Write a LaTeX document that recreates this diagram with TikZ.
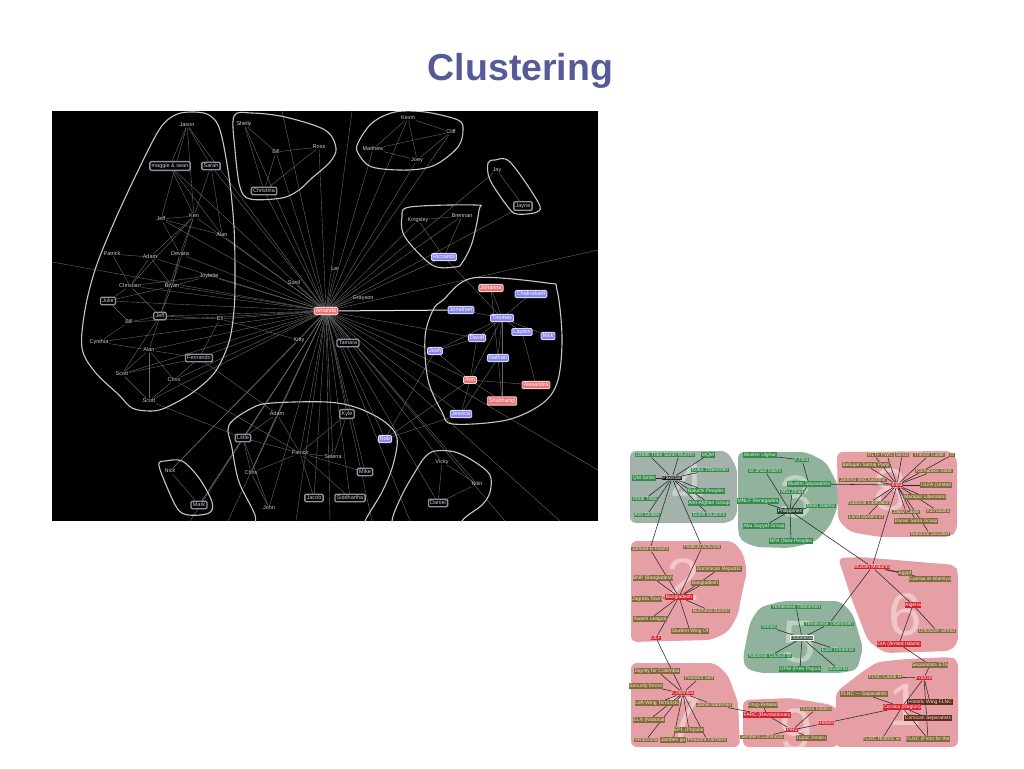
\documentclass[tikz,border=0pt]{standalone}
\usepackage{fontspec}
\setmainfont{Liberation Sans}
\definecolor{titlec}{RGB}{86,90,150}
\definecolor{ltxt}{RGB}{205,205,205}
\definecolor{gbord}{RGB}{140,146,160}
\definecolor{bfill}{RGB}{135,135,235}
\definecolor{bglow}{RGB}{215,215,255}
\definecolor{pfill}{RGB}{232,115,115}
\definecolor{pglow}{RGB}{255,205,205}
\definecolor{ledgec}{RGB}{105,105,105}
\definecolor{hullc}{RGB}{200,200,195}
\definecolor{cpink}{RGB}{230,160,165}
\definecolor{cgreen}{RGB}{145,178,156}
\definecolor{cgray}{RGB}{163,178,170}
\definecolor{glab}{RGB}{55,138,78}
\definecolor{gtxt}{RGB}{225,245,225}
\definecolor{blab}{RGB}{128,106,62}
\definecolor{btxt}{RGB}{245,235,205}
\definecolor{rlabc}{RGB}{212,35,45}
\definecolor{dbrown}{RGB}{95,42,32}
\definecolor{dgreen}{RGB}{38,72,46}
\pgfdeclarelayer{bg}
\pgfdeclarelayer{edges}
\pgfsetlayers{bg,edges,main}
\tikzset{
  lt/.style={text=ltxt, font=\fontsize{5.5}{5.5}\selectfont, inner sep=0.5pt},
  gbox/.style={lt, draw=gbord, line width=1.3pt, fill=black, rounded corners=1.3pt, inner sep=1.8pt},
  bbox/.style={lt, text=white, draw=bglow, line width=0.9pt, fill=bfill, rounded corners=1.2pt, inner sep=1.6pt},
  pbox/.style={lt, text=white, draw=pglow, line width=0.9pt, fill=pfill, rounded corners=1.2pt, inner sep=1.6pt},
  ledge/.style={draw=ledgec, line width=0.4pt},
  bright/.style={draw=white!85!gray, line width=1pt},
  hull/.style={draw=hullc, line width=1.1pt, smooth cycle, tension=0.55},
  rl/.style={font=\fontsize{5}{5}\selectfont, inner sep=0.6pt},
  grl/.style={rl, fill=glab, text=gtxt},
  brl/.style={rl, fill=blab, text=btxt},
  rrl/.style={rl, fill=rlabc, text=white},
  drl/.style={rl, fill=dbrown, text=btxt},
  redge/.style={draw=black!85, line width=0.55pt},
  numl/.style={font=\fontsize{60}{60}\selectfont, text=white, opacity=0.4, inner sep=0pt},
  cl/.style={rounded corners=6pt}
}
\begin{document}
\begin{tikzpicture}[x=1pt,y=-1pt]
\useasboundingbox (0,0) rectangle (1024,768);
\node[font=\fontsize{37.5}{40}\selectfont\bfseries, text=titlec, anchor=base, inner sep=0pt] (title) at (520.5,81) {Clustering};

% ================= LEFT IMAGE =================
\begin{pgfonlayer}{bg}
\fill[black] (52,111) rectangle (598,521);
\end{pgfonlayer}

% top-left cluster
\node[lt] (jason) at (187,125) {Jason};
\node[gbox] (maggie) at (170,166) {maggie \& sean};
\node[gbox] (sarah) at (211,166) {Sarah};
\node[lt] (jeffa) at (161,219) {Jeff};
\node[lt] (ken) at (194,216) {Ken};
\node[lt] (alana) at (222,235) {Alan};
\node[lt] (patricka) at (112,254) {Patrick};
\node[lt] (adama) at (150,257) {Adam};
\node[lt] (devara) at (180,254) {Devara};
\node[lt] (joylette) at (209,276) {Joylette};
\node[lt] (christian) at (130,286) {Christian};
\node[lt] (bryan) at (172,286) {Bryan};
\node[gbox] (julie) at (108,301) {Julie};
\node[gbox] (jeffb) at (160,316) {Jeff};
\node[lt] (billb) at (129,322) {Bill};
\node[lt] (eli) at (220,319) {Eli};
\node[lt] (cynthia) at (99,342) {Cynthia};
\node[lt] (alanb) at (149,350) {Alan};
\node[gbox] (fernando) at (199,358) {Fernando};
\node[lt] (scotta) at (122,374) {Scott};
\node[lt] (chrisa) at (174,380) {Chris};
\node[lt] (scottb) at (149,401) {Scott};
% Shelly cluster
\node[lt] (shelly) at (244,124) {Shelly};
\node[lt] (bill) at (276,152) {Bill};
\node[lt] (ross) at (319,147) {Ross};
\node[gbox] (christina) at (264,191) {Christina};
% Kevin cluster
\node[lt] (kevin) at (408,118) {Kevin};
\node[lt] (cliff) at (451,132) {Cliff};
\node[lt] (matthew) at (373,149) {Matthew};
\node[lt] (joey) at (417,160) {Joey};
% Jay cluster
\node[lt] (jay) at (497,170) {Jay};
\node[gbox] (jayne) at (523,206) {Jayne};
% Kingsley cluster
\node[lt] (kingsley) at (418,220) {Kingsley};
\node[lt] (brennan) at (462,216) {Brennan};
\node[bbox] (riccardo) at (444,257) {Riccardo};
% free nodes
\node[lt] (lei) at (335,269) {Lei};
\node[lt] (sunil) at (294,283) {Sunil};
\node[lt] (grayson) at (363,298) {Grayson};
\node[pbox] (amanda) at (326,311) {Amanda};
\node[lt] (kitty) at (299,340) {Kitty};
\node[gbox] (tamara) at (348,343) {Tamara};
% right cluster
\node[pbox] (johanna) at (491,288) {Johanna};
\node[bbox] (chakrab) at (531,294) {Chakrabarti};
\node[bbox] (jonathan) at (461,310) {Jonathan};
\node[bbox] (thomas) at (502,318) {Thomas};
\node[bbox] (lauren) at (522,332) {Lauren};
\node[bbox] (nickb) at (548,336) {Nick};
\node[bbox] (david) at (477,338) {David};
\node[bbox] (josh) at (435,351) {Josh};
\node[bbox] (nathan) at (498,358) {Nathan};
\node[pbox] (ann) at (470,380) {Ann};
\node[pbox] (alexandra) at (536,385) {Alexandra};
\node[pbox] (shub) at (502,401) {Shubhangi};
\node[bbox] (jessica) at (461,414) {Jessica};
% bottom cluster
\node[lt] (adam) at (277,414) {Adam};
\node[gbox] (little) at (243,438) {Little};
\node[lt] (patrick) at (300,453) {Patrick};
\node[lt] (chris) at (251,473) {Chris};
\node[gbox] (jacob) at (314,498) {Jacob};
\node[lt] (john) at (269,508) {John};
\node[gbox] (kyle) at (347,414) {Kyle};
\node[bbox] (rob) at (385,439) {Rob};
\node[lt] (selena) at (333,457) {Selena};
\node[gbox] (mike) at (365,472) {Mike};
\node[gbox] (sidd) at (350,498) {Siddhartha};
% Nick cluster
\node[lt] (nick) at (170,471) {Nick};
\node[gbox] (mark) at (199,505) {Mark};
% Vicky cluster
\node[lt] (vicky) at (442,462) {Vicky};
\node[lt] (nitin) at (477,484) {Nitin};
\node[gbox] (daniel) at (438,503) {Daniel};

% free ends at the border of the left image
\coordinate (o1) at (282,111);
\coordinate (o2) at (352,111);
\coordinate (o3) at (52,262);
\coordinate (o4) at (190,521);
\coordinate (o5) at (228,521);
\coordinate (o6) at (296,521);
\coordinate (o7) at (330,521);
\coordinate (o8) at (372,521);
\coordinate (o9) at (410,521);
\coordinate (o10) at (505,521);
\coordinate (o11) at (598,470);
\coordinate (o12) at (560,521);
\coordinate (o13) at (598,250);

\begin{pgfonlayer}{edges}
\begin{scope}
\clip (52,111) rectangle (598,521);
\foreach \b in {jason,maggie,sarah,jeffa,ken,alana,adama,devara,joylette,christian,bryan,julie,jeffb,billb,eli,cynthia,alanb,fernando,scotta,chrisa,scottb,shelly,bill,ross,christina,kevin,cliff,matthew,joey,jay,jayne,kingsley,brennan,riccardo,lei,sunil,grayson,kitty,tamara,adam,little,patrick,chris,jacob,john,kyle,rob,selena,mike,sidd,nick,mark,vicky,nitin,daniel,josh,david,jessica,ann,o1,o2,o3,o4,o5,o6,o7,o8,o9,o10,o11,o12,o13}
  \draw[ledge] (amanda) -- (\b);
\foreach \a/\b in {jason/maggie,jason/sarah,jason/ken,jason/jeffa,maggie/ken,maggie/alana,sarah/alana,sarah/ken,ken/jeffa,ken/adama,ken/devara,ken/bryan,ken/christian,jeffa/alana,jeffa/devara,patricka/christian,patricka/adama,adama/christian,adama/bryan,devara/bryan,devara/jeffb,joylette/bryan,joylette/christian,bryan/julie,bryan/jeffb,christian/jeffb,christian/julie,julie/billb,jeffb/billb,jeffb/alanb,jeffb/eli,billb/cynthia,cynthia/alanb,alanb/scotta,alanb/chrisa,alanb/scottb,alanb/fernando,fernando/chrisa,fernando/scotta,scotta/scottb,chrisa/scottb,jeffb/scotta,eli/fernando,shelly/bill,bill/ross,bill/christina,shelly/christina,ross/christina,kevin/matthew,kevin/joey,kevin/cliff,cliff/joey,matthew/joey,cliff/matthew,jay/jayne,kingsley/riccardo,brennan/riccardo,kingsley/brennan,riccardo/thomas,thomas/jonathan,thomas/johanna,thomas/chakrab,thomas/david,thomas/lauren,thomas/nickb,thomas/nathan,thomas/ann,thomas/josh,thomas/shub,nathan/jessica,ann/alexandra,ann/jessica,ann/shub,josh/ann,nathan/shub,lauren/alexandra,david/josh,johanna/nathan,david/ann,ann/rob,rob/josh,rob/jessica,adam/little,adam/patrick,patrick/little,patrick/chris,patrick/jacob,little/chris,chris/john,patrick/selena,patrick/kyle,mike/patrick,sidd/patrick,little/john,adam/chris,kyle/selena,nick/mark,vicky/nitin,vicky/daniel,nitin/daniel,nick/kitty,mark/little,chrisa/patrick,scottb/little,eli/kitty,fernando/adam}
  \draw[ledge] (\a) -- (\b);
\draw[bright] (amanda) -- (jonathan);
% cluster hulls
\draw[hull] plot coordinates {(175,115) (192,112) (209,115) (220,130) (229,177) (234,227) (235,277) (234,310) (229,342) (215,372) (192,393) (165,408) (150,411) (132,408) (119,395) (95,372) (82,348) (85,310) (95,270) (112,227) (135,177) (159,130)};
\draw[hull] plot coordinates {(234,116) (252,113) (285,117) (325,130) (336,148) (330,162) (312,178) (299,190) (282,198) (250,199) (240,187) (235,150)};
\draw[hull] plot coordinates {(358,143) (372,123) (395,112) (425,112) (458,120) (463,130) (458,147) (435,165) (408,170) (372,167) (358,153)};
\draw[hull] plot coordinates {(488,163) (495,160) (510,162) (538,202) (537,212) (517,214) (508,207) (490,180)};
\draw[hull] plot coordinates {(402,217) (410,207) (475,205) (479,210) (472,243) (462,263) (455,267) (432,265) (405,237)};
\draw[hull] plot coordinates {(443,300) (473,278) (547,283) (557,290) (562,337) (558,380) (543,403) (507,420) (453,424) (442,412) (428,380) (425,337) (433,310)};
\draw[hull] plot coordinates {(229,425) (252,408) (272,403) (327,402) (358,408) (385,422) (397,438) (393,465) (382,492) (365,521) (358,545) (262,545) (255,515) (239,482) (232,448)};
\draw[hull] plot coordinates {(159,463) (165,461) (182,461) (199,478) (212,502) (209,513) (189,515) (177,508) (162,475)};
\draw[hull] plot coordinates {(425,457) (435,451) (455,452) (475,462) (490,475) (490,492) (482,505) (462,521) (455,545) (395,545) (392,521) (402,495) (415,472)};
\end{scope}
\end{pgfonlayer}

% ================= RIGHT IMAGE =================
\begin{pgfonlayer}{bg}
\fill[cgray,cl] (630,451) -- (727,451) -- (737,468) -- (737,516) -- (729,523) -- (630,523) -- cycle;
\fill[cgreen,cl] (738,452) -- (806,452) -- (826,462) -- (838,485) -- (838,506) -- (830,526) -- (815,542) -- (790,548) -- (755,547) -- (740,540) -- (738,530) -- cycle;
\fill[cpink,cl] (837,452) -- (951,451) -- (957,458) -- (957,531) -- (950,537) -- (880,537) -- (850,532) -- (838,520) -- cycle;
\fill[cpink,cl] (631,541) -- (733,541) -- (743,553) -- (747,571) -- (741,598) -- (738,615) -- (728,632) -- (711,640) -- (631,642) -- cycle;
\fill[cpink,cl] (838,558) -- (860,557) -- (955,565) -- (958,572) -- (958,643) -- (950,651) -- (885,653) -- (868,641) -- (852,600) -- cycle;
\fill[cgreen,cl] (743,657) -- (750,622) -- (760,607) -- (783,601) -- (840,601) -- (853,614) -- (863,648) -- (857,670) -- (840,673) -- (760,673) -- (745,668) -- cycle;
\fill[cpink,cl] (631,663) -- (715,663) -- (728,675) -- (738,702) -- (740,747) -- (631,747) -- cycle;
\fill[cpink,cl] (743,700) -- (791,698) -- (833,705) -- (838,712) -- (838,747) -- (743,747) -- cycle;
\fill[cpink,cl] (836,692) -- (862,672) -- (877,662) -- (907,659) -- (950,657) -- (958,660) -- (958,747) -- (835,747) -- cycle;
\node[numl] at (688,485) {4};
\node[numl] at (796,497) {3};
\node[numl] at (890,490) {8};
\node[numl] at (683,580) {2};
\node[numl] at (905,615) {6};
\node[numl] at (799,642) {5};
\node[numl] at (684,718) {7};
\node[numl] at (796,730) {9};
\node[numl] at (905,705) {1};
\end{pgfonlayer}

% cluster 4 (Pakistan)
\node[grl] (uzbek) at (649,455) {Uzbek Tribe};
\node[grl] (sunni) at (679,455) {Sunni Muslim};
\node[grl] (mqm) at (708,455) {MQM};
\node[grl] (kuka) at (710,470) {Kuka-Tribesmen};
\node[rl, fill=black!90, text=white] (pak) at (672,478) {Pakistan};
\node[grl] (qm) at (644,478) {QM Strike};
\node[grl] (baluchi) at (706,491) {Baluchi Peoples};
\node[grl] (hindi) at (645,499) {Hindi Tribe};
\node[grl] (antiaf) at (709,503) {Anti-Afghan Group};
\node[grl] (antish) at (647,515) {Anti-Shiites};
\node[grl] (sunnis) at (709,515) {Sunni Muslims};
% cluster 3 (Philippines)
\node[grl] (uighur) at (760,455) {Muslim Uighur};
\node[grl] (china) at (802,460) {China};
\node[grl] (jihad) at (765,471) {al-Jihad Islami};
\node[grl] (musep) at (809,484) {Muslim Separatists};
\node[grl] (abuj) at (792,492) {Abu Jihad};
\node[grl] (mnlf) at (758,501) {MNLF Renegades};
\node[grl] (moro) at (821,506) {Moro Islamic};
\node[rl, fill=dgreen, text=white] (phil) at (790,511) {Philippines};
\node[grl] (abus) at (764,526) {Abu Sayyaf Group};
\node[grl] (npa) at (791,541) {NPA (New Peoples};
% cluster 8 (India)
\node[brl] (rltf) at (874,455) {RLTF};
\node[brl] (pwg) at (887,455) {PWG};
\node[brl] (sessi) at (902,455) {Sessi};
\node[brl] (thevar) at (929,455) {Thevar Caste};
\node[brl] (isl) at (952,455) {Is};
\node[brl] (bahujan) at (866,465) {Bahujan Samaj Party};
\node[brl] (karstate) at (934,471) {Karnataka State};
\node[brl] (jammu) at (863,480) {Jammu and Kashmir};
\node[rrl] (india) at (897,485) {India};
\node[brl] (ulfa) at (936,485) {ULFA (United};
\node[brl] (manipur) at (925,497) {Manipur Liberation};
\node[brl] (natlib) at (869,503) {National Liberation};
\node[brl] (jatav) at (906,512) {Jatav Caste};
\node[brl] (karn) at (938,511) {Karnataka};
\node[brl] (land) at (866,517) {Land owners of};
\node[brl] (ranvir) at (916,521) {Ranvir Sena Group};
\node[brl] (natsoc) at (930,534) {National Socialist};
% cluster 6 (Algeria)
\node[rrl] (mm) at (872,567) {Muslim Militants};
\node[brl] (egypt) at (905,573) {Egypt};
\node[brl] (gamaa) at (930,579) {Gamaa al-Islamiya};
\node[rrl] (algeria) at (913,605) {Algeria};
\node[brl] (unknown) at (937,631) {Unknown armed};
\node[rrl] (gia) at (899,644) {GIA (Armed Islamic};
% cluster 1 (France)
\node[brl] (eta) at (930,665) {Separatists ETA};
\node[brl] (flncc) at (885,677) {FLNC-Canal H};
\node[rrl] (france) at (924,678) {France};
\node[brl] (flncs) at (864,694) {FLNC --- Separatists};
\node[drl] (hist) at (930,702) {Historic Wing FLNC};
\node[rrl] (corsica) at (902,707) {Corsica (Region)};
\node[drl] (corsep) at (928,718) {Corsican Separatists};
\node[brl] (flnch) at (882,739) {FLNC Historic wi};
\node[brl] (flncf) at (928,739) {FLNC (Front for the};
% cluster 9 (Peru)
\node[brl] (drug) at (763,705) {Drug-Related};
\node[brl] (tiruna) at (816,709) {Tiruna Indians};
\node[rrl] (farc) at (767,715) {FARC (Revolutionary};
\node[rrl] (peru) at (792,730) {Peru};
\node[rrl] (rebels) at (826,723) {Rebels};
\node[brl] (sendero) at (762,737) {Sendero Luminoso};
\node[brl] (tupac) at (811,738) {Tupac Amaru};
% cluster 7 (Colombia)
\node[brl] (dignity) at (657,671) {Dignity for Colombia};
\node[brl] (pself) at (699,678) {Peasant Self};
\node[brl] (secur) at (646,686) {Security forces};
\node[rrl] (colombia) at (683,693) {Colombia};
\node[brl] (leftw) at (657,703) {Left-Wing Terrorists};
\node[brl] (jaime) at (714,705) {Jaime Bateman};
\node[brl] (eln) at (649,720) {ELN (National};
\node[brl] (epl) at (689,730) {EPL (Popular};
\node[brl] (venez) at (646,740) {Venezuela};
\node[brl] (jamben) at (673,740) {Jamben gu};
\node[brl] (peasf) at (707,740) {Peasant Farmers};
% cluster 2 (Bangladesh)
\node[brl] (jamaat) at (650,549) {Jamaat-E-Islami};
\node[brl] (polit) at (702,547) {Political Activists};
\node[brl] (domin) at (719,569) {Dominican Republic};
\node[brl] (bnp) at (653,578) {BNP (Bangladesh};
\node[brl] (bangb) at (705,583) {Bangladesh};
\node[rrl] (bangr) at (679,597) {Bangladesh};
\node[brl] (jagrata) at (647,599) {Jagrata Town};
\node[brl] (burmese) at (711,611) {Burmese Border};
\node[brl] (awami) at (650,619) {Awami League};
\node[brl] (student) at (690,631) {Student Wing Of};
\node[rrl] (ulf) at (656,638) {ULF};
% cluster 5 (Indonesia)
\node[grl] (yemta) at (796,607) {Yemenese Tribesmen};
\node[grl] (yemen) at (769,627) {Yemen};
\node[grl] (yemtb) at (829,624) {Yemenese Tribesmen};
\node[rl, fill=dgreen!80!gray, text=white, draw=white!80, line width=0.5pt] (indo) at (802,638) {Indonesia};
\node[grl] (easttim) at (838,650) {East Timorese};
\node[grl] (natc) at (770,656) {National Council of};
\node[grl] (opm) at (800,669) {OPM (Free Papua};
\node[grl] (stud) at (838,669) {Students};

\begin{pgfonlayer}{edges}
\foreach \a/\b in {pak/uzbek,pak/sunni,pak/mqm,pak/kuka,pak/qm,pak/baluchi,pak/hindi,pak/antiaf,pak/antish,pak/sunnis,pak/jamaat,pak/polit,
bangr/jamaat,bangr/polit,bangr/domin,bangr/bnp,bangr/bangb,bangr/jagrata,bangr/burmese,bangr/awami,bangr/student,bangr/ulf,ulf/colombia,
colombia/dignity,colombia/pself,colombia/secur,colombia/leftw,colombia/jaime,colombia/eln,colombia/epl,colombia/venez,colombia/jamben,colombia/peasf,
jaime/farc,farc/drug,farc/peru,peru/tiruna,peru/rebels,peru/tupac,peru/sendero,rebels/corsica,
corsica/france,corsica/flncs,corsica/hist,corsica/corsep,corsica/flnch,corsica/flncf,france/flncc,france/eta,france/hist,france/flncf,eta/gia,
algeria/gia,algeria/unknown,mm/algeria,mm/egypt,mm/gamaa,mm/india,mm/phil,mm/yemtb,
india/rltf,india/pwg,india/sessi,india/thevar,india/isl,india/bahujan,india/karstate,india/jammu,india/ulfa,india/manipur,india/natlib,india/jatav,india/karn,india/land,india/ranvir,india/natsoc,india/musep,
phil/musep,phil/moro,phil/mnlf,phil/abus,phil/npa,phil/abuj,phil/jihad,china/musep,china/uighur,
indo/yemta,indo/yemen,indo/yemtb,indo/easttim,indo/natc,indo/opm,indo/stud}
  \draw[redge] (\a) -- (\b);
\end{pgfonlayer}
\end{tikzpicture}
\end{document}
